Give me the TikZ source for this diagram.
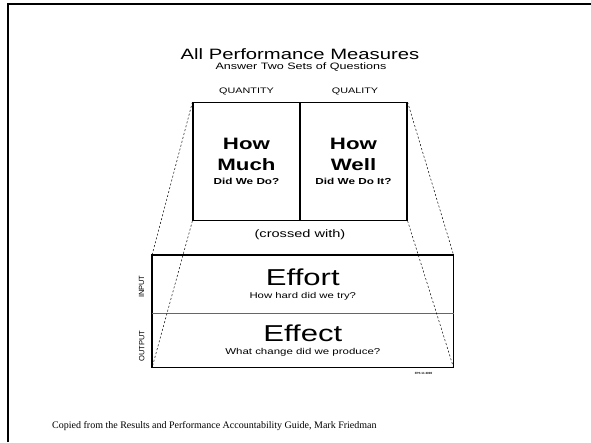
\documentclass[tikz,border=0pt]{standalone}
\usepackage{fontspec}
\setmainfont{Liberation Serif}
\newfontfamily\widesans[FakeStretch=1.35]{Liberation Sans}
\newfontfamily\plainsans{Liberation Sans}
\newcommand{\fs}[2]{\fontsize{#1}{#2}\selectfont}

\begin{document}
\begin{tikzpicture}[x=1pt,y=-1pt]
\tikzstyle{every node}=[inner sep=0pt, font=\widesans]
\tikzstyle{cell}=[draw, line width=1.2pt, minimum width=107pt, minimum height=117.6pt, align=center]
\tikzstyle{band}=[minimum width=301pt]
\tikzstyle{cone}=[dash pattern=on 2pt off 2pt, line width=0.5pt]
\useasboundingbox (0,0) rectangle (591,442);
\draw[line width=2pt] (7.5,442) -- (7.5,4) -- (591,4);
\draw (300,54) node (title) {\fs{15}{18}All Performance Measures};
\draw (301,67) node (subtitle) {\fs{9.3}{11}Answer Two Sets of Questions};
\draw (246.5,91) node (quantity) {\fs{8}{10}QUANTITY};
\draw (355,91) node (quality) {\fs{8}{10}QUALITY};
\draw (246.5,161.5) node (much) [cell] {\fs{16.5}{20}\bfseries How\\[8pt] \fs{16.5}{20}\bfseries Much\\[1.5pt] \fs{8.7}{10}\bfseries Did We Do?};
\draw (353.5,161.5) node (well) [cell] {\fs{16.5}{20}\bfseries How\\[8pt] \fs{16.5}{20}\bfseries Well\\[1.5pt] \fs{8.7}{10}\bfseries Did We Do It?};
\draw (300,235) node (crossed) {\fs{10.8}{13}(crossed with)};
\draw (302.8,284.2) node (effort) [band, minimum height=58.3pt] {};
\draw (302.8,340.3) node (effect) [band, minimum height=54pt] {};
\draw (effort.center) ++(0,-7) node (efforthead) {\fs{23}{26}Effort};
\draw (effort.center) ++(0,12) node (effortsub) {\fs{8.4}{10}How hard did we try?};
\draw (effect.center) ++(0,-7.3) node (effecthead) {\fs{23}{26}Effect};
\draw (effect.center) ++(0,11.7) node (effectsub) {\fs{8.5}{10}What change did we produce?};
\draw[line width=1.3pt] (effort.north west) rectangle (effect.south east);
\draw[line width=0.5pt, gray!80!black] (effort.south west) -- (effort.south east);
\draw (141.7,286.7) node (input) [rotate=90, font=\plainsans\fs{7.5}{9}] {INPUT};
\draw (141.7,346) node (output) [rotate=90, font=\plainsans\fs{7.6}{9}] {OUTPUT};
\draw (423.5,373) node (stamp) [font=\plainsans\fs{3}{3}\bfseries] {FPS 11 2000};
\draw[cone] (much.north west) -- (effort.north west);
\draw[cone] (much.south west) -- (effect.south west);
\draw[cone] (well.north east) -- (effort.north east);
\draw[cone] (well.south east) -- (effect.south east);
\draw (52,426) node (source) [anchor=west, font=\rmfamily\fs{10}{12}] {Copied from the Results and Performance Accountability Guide, Mark Friedman};
\end{tikzpicture}
\end{document}
